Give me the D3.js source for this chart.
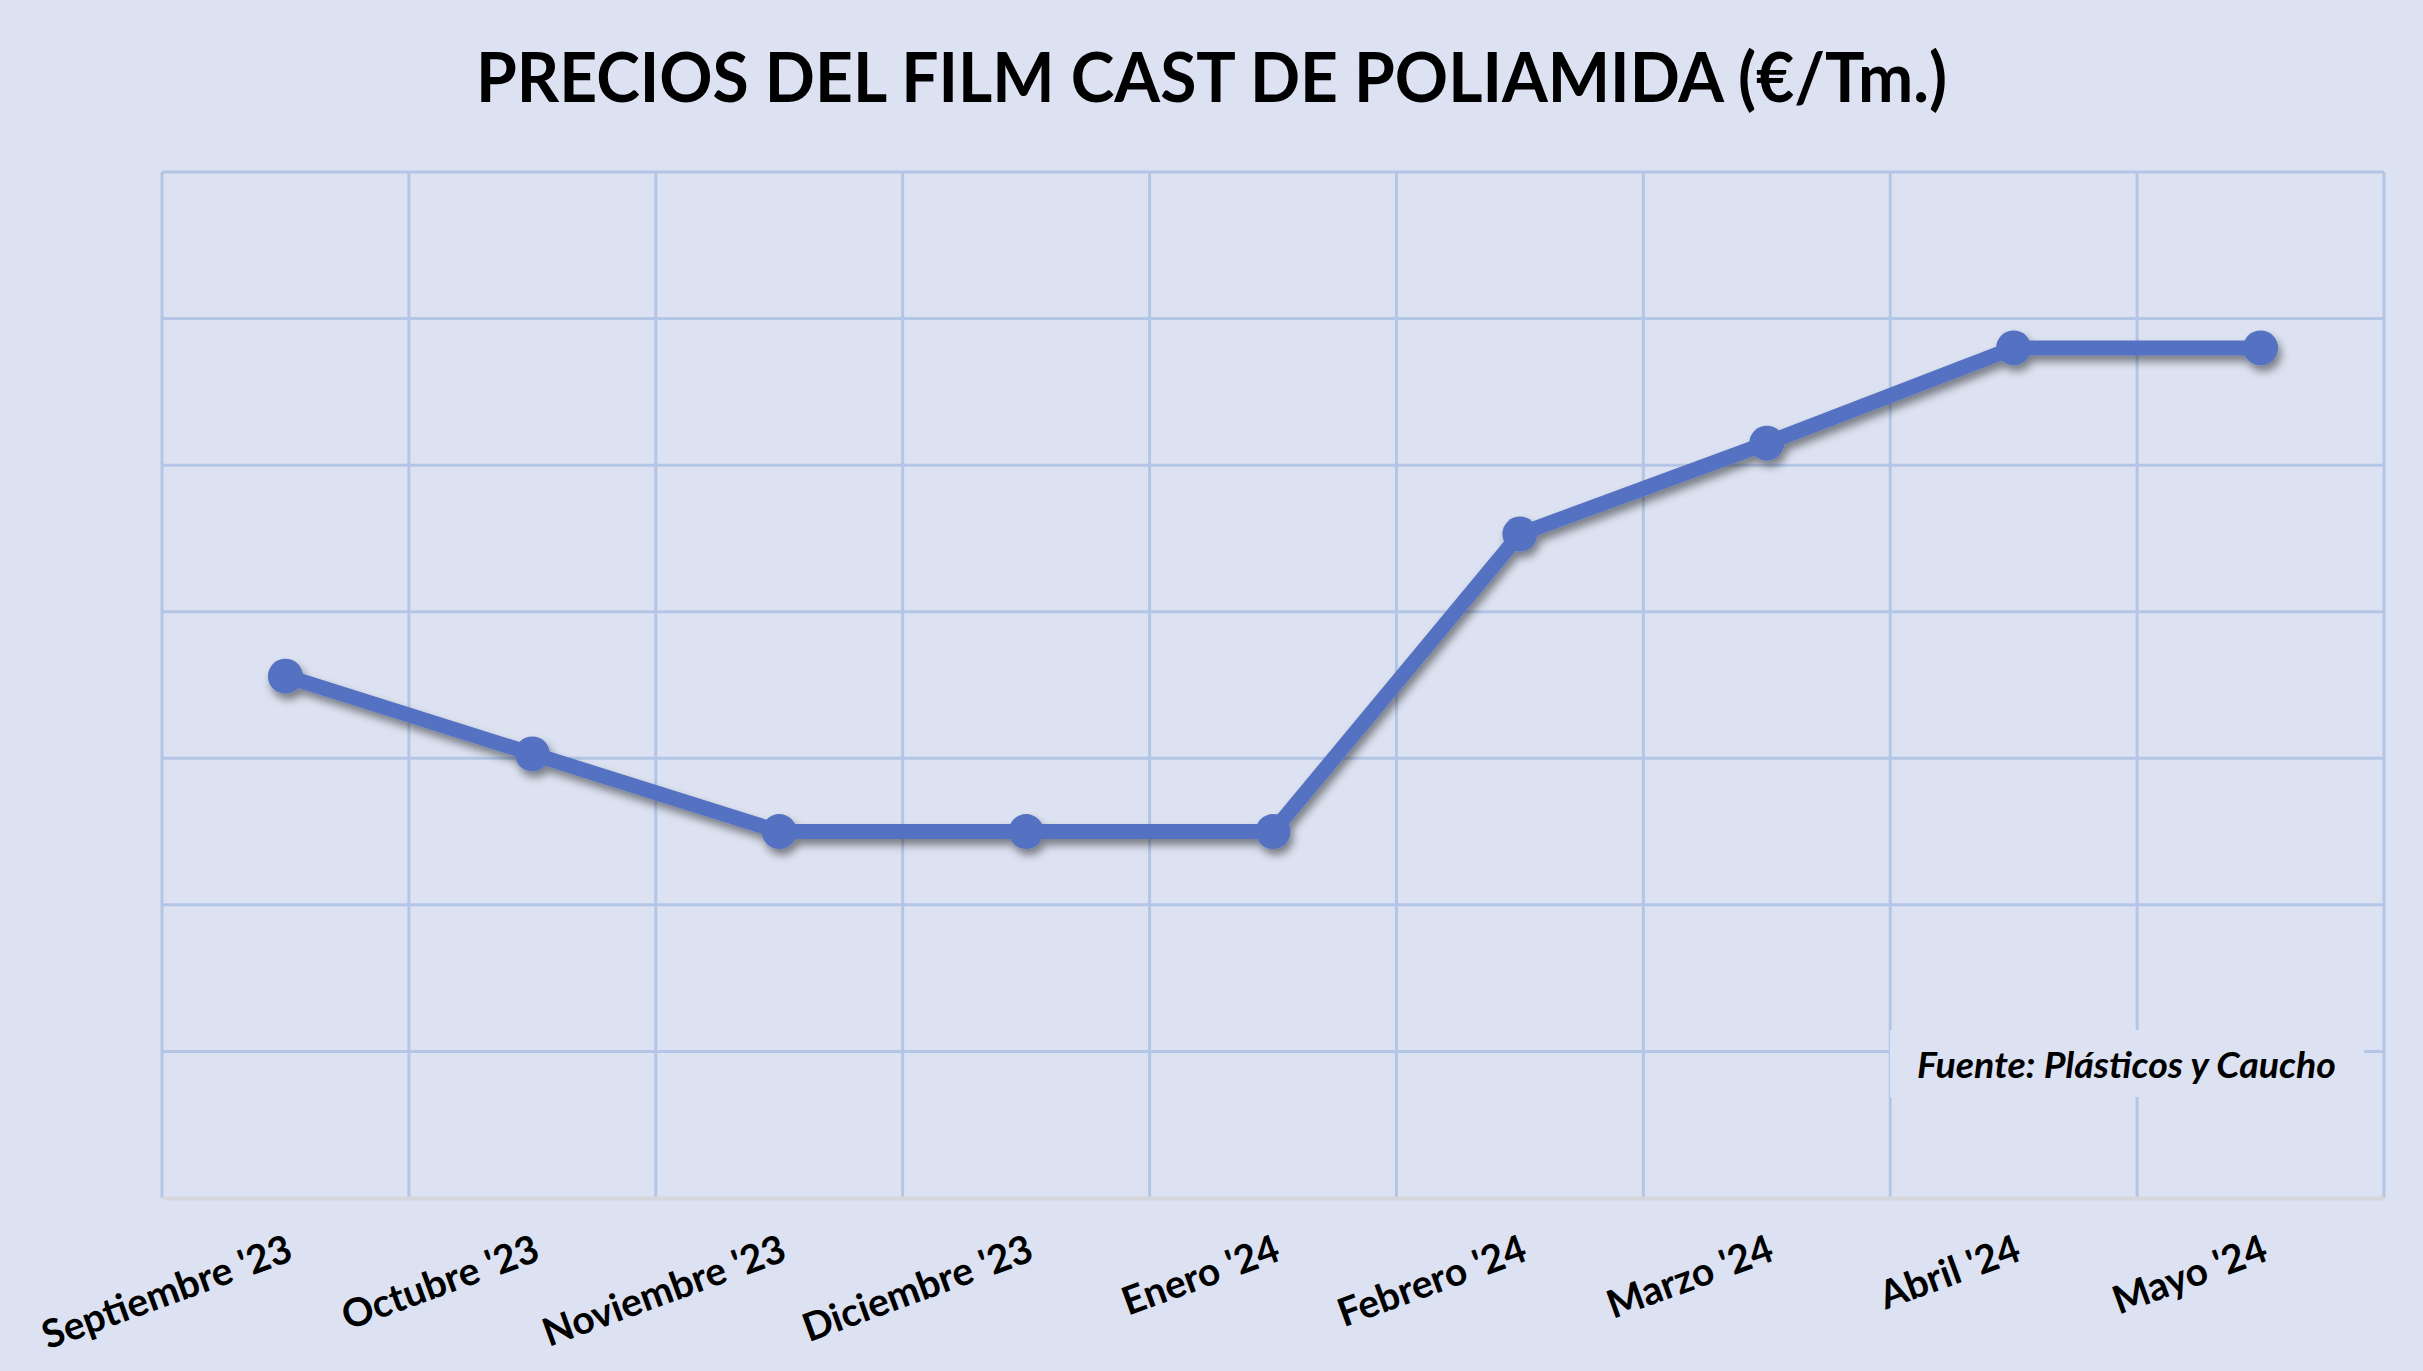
<!DOCTYPE html>
<html><head><meta charset="utf-8">
<script src="https://cdn.jsdelivr.net/npm/d3@7"></script>
<style>
html,body{margin:0;padding:0;background:#dce2f1;}
svg{display:block;}
</style></head>
<body>
<script>
const categories = ["Septiembre '23","Octubre '23","Noviembre '23","Diciembre '23","Enero '24","Febrero '24","Marzo '24","Abril '24","Mayo '24"];
const precios = [3.56, 3.03, 2.50, 2.50, 2.50, 4.53, 5.15, 5.80, 5.80];
const yTicks = [0,1,2,3,4,5,6,7];
const titulo = "PRECIOS DEL FILM CAST DE POLIAMIDA (€/Tm.)";
const fuente = "Fuente: Plásticos y Caucho";

const W = 2423, H = 1371;
const m = {left:162, right:W-2384, top:172, bottom:H-1198};
const svg = d3.select("body").append("svg").attr("width",W).attr("height",H);
svg.append("rect").attr("width",W).attr("height",H).attr("fill","#dce2f1");

const defs = svg.append("defs");
const f = defs.append("filter").attr("id","sh").attr("x","-20%").attr("y","-20%").attr("width","140%").attr("height","140%");
f.append("feDropShadow").attr("dx",3).attr("dy",6).attr("stdDeviation",4).attr("flood-color","#000").attr("flood-opacity",0.45);

const x = d3.scaleBand().domain(categories).range([m.left, W-m.right]).padding(0);
const y = d3.scaleLinear().domain([0,7]).range([H-m.bottom, m.top]);

const grid = svg.append("g");
grid.selectAll("line.h").data(yTicks.filter(d=>d>0)).join("line")
  .attr("x1",m.left).attr("x2",W-m.right)
  .attr("y1",d=>y(d)).attr("y2",d=>y(d))
  .attr("stroke","#b4c6e6").attr("stroke-width",3);
const bounds = categories.map(c=>x(c)).concat([x(categories[categories.length-1])+x.bandwidth()]);
grid.selectAll("line.v").data(bounds).join("line")
  .attr("x1",d=>d).attr("x2",d=>d)
  .attr("y1",m.top).attr("y2",H-m.bottom)
  .attr("stroke","#b4c6e6").attr("stroke-width",3);

const xAxis = svg.append("g").attr("transform",`translate(0,${H-m.bottom})`)
  .call(d3.axisBottom(x).tickSize(0).tickPadding(0));
xAxis.select(".domain").attr("stroke","#d6d7dc").attr("stroke-width",4);
xAxis.selectAll(".tick text")
  .attr("font-family","Lato, 'Open Sans', sans-serif")
  .attr("font-weight","bold").attr("font-size",39).attr("fill","#000")
  .attr("text-anchor","end")
  .attr("transform","translate(0,36) rotate(-20)")
  .attr("dy","0.7em");

svg.append("rect").attr("x",1890).attr("y",1030).attr("width",474).attr("height",67).attr("fill","#dce2f1");
svg.append("text").attr("x",2336).attr("y",1078).attr("text-anchor","end")
  .attr("font-family","Lato, 'Open Sans', sans-serif").attr("font-weight","bold").attr("font-style","italic")
  .attr("font-size",37).attr("fill","#000")
  .attr("textLength",419).attr("lengthAdjust","spacingAndGlyphs")
  .text(fuente);

const line = d3.line().x((d,i)=>x(categories[i])+x.bandwidth()/2).y(d=>y(d));
const g = svg.append("g").attr("filter","url(#sh)");
g.append("path").datum(precios).attr("d",line).attr("fill","none")
  .attr("stroke","#5471c1").attr("stroke-width",15).attr("stroke-linejoin","round");
g.selectAll("circle").data(precios).join("circle")
  .attr("cx",(d,i)=>x(categories[i])+x.bandwidth()/2).attr("cy",d=>y(d)).attr("r",17.5)
  .attr("fill","#5471c1");

svg.append("text").attr("x",W/2).attr("y",102).attr("text-anchor","middle")
  .attr("font-family","Lato, 'Open Sans', sans-serif").attr("font-weight","bold")
  .attr("font-size",69).attr("fill","#000")
  .attr("textLength",1471).attr("lengthAdjust","spacingAndGlyphs")
  .text(titulo);
</script>
</body></html>
